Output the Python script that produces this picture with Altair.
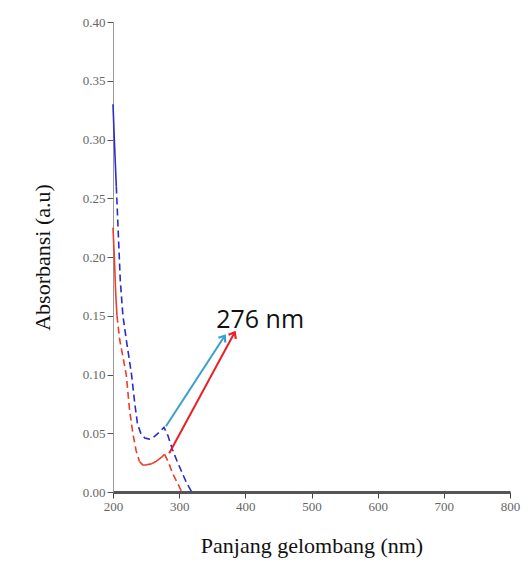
import altair as alt
import pandas as pd

# Blue curve (wavelength nm, absorbance)
blue_x = [200, 202, 205, 208, 211, 215, 220, 228, 233, 237, 242, 248, 255, 262, 270, 277, 283, 290, 297, 304, 311, 319]
blue_y = [0.33, 0.30, 0.26, 0.22, 0.18, 0.15, 0.13, 0.10, 0.075, 0.058, 0.05, 0.046, 0.045, 0.047, 0.051, 0.055, 0.048, 0.036, 0.026, 0.017, 0.008, 0.0]

red_x = [200, 202, 204, 206, 210, 215, 220, 225, 230, 235, 240, 245, 250, 258, 265, 272, 278, 284, 290, 297, 304]
red_y = [0.225, 0.20, 0.17, 0.15, 0.13, 0.115, 0.10, 0.07, 0.05, 0.035, 0.026, 0.023, 0.023, 0.024, 0.026, 0.029, 0.032, 0.025, 0.016, 0.008, 0.0]

# Annotation arrows: start and tip in data units
arrow_blue = [(280, 0.056), (369, 0.133)]
arrow_red = [(285, 0.033), (384, 0.136)]
label_text = "276 nm"
label_pos = (356, 0.146)

x_ticks = [200, 300, 400, 500, 600, 700, 800]
y_ticks = [0.0, 0.05, 0.10, 0.15, 0.20, 0.25, 0.30, 0.35, 0.40]

rows = []
for x, y in zip(blue_x, blue_y):
    segs = ["b1"] if x < 205 else (["b1", "b2"] if x == 205 else ["b2"])
    for s in segs:
        rows.append(dict(x=x, y=y, seg=s, dash="solid" if s == "b1" else "dash", color="blue"))
for x, y in zip(red_x, red_y):
    if x == 206:
        segs = ["r1", "r2"]
    elif x == 240:
        segs = ["r2", "r3"]
    elif x == 278:
        segs = ["r3", "r4"]
    elif x < 206:
        segs = ["r1"]
    elif x < 240:
        segs = ["r2"]
    elif x < 278:
        segs = ["r3"]
    else:
        segs = ["r4"]
    for s in segs:
        rows.append(dict(x=x, y=y, seg=s, dash="solid" if s in ("r1", "r3") else "dash", color="red"))
df = pd.DataFrame(rows)

xs = alt.Scale(domain=[200, 800], nice=False)
ys = alt.Scale(domain=[0, 0.40], nice=False)

xaxis = alt.Axis(values=x_ticks, title="Panjang gelombang (nm)", format="d",
                 titleFont="Liberation Serif", titleFontSize=22, titleFontWeight="normal",
                 titleColor="#111", titlePadding=22, labelFlush=False,
                 labelFont="Liberation Serif", labelFontSize=13, labelColor="#666",
                 domainColor="#555", domainWidth=3, tickColor="#444", tickSize=6, grid=False)
yaxis = alt.Axis(values=y_ticks, title="Absorbansi (a.u)", format=".2f",
                 titleFont="Liberation Serif", titleFontSize=22, titleFontWeight="normal",
                 titleColor="#111", titlePadding=28, labelFlush=False,
                 labelFont="Liberation Serif", labelFontSize=13, labelColor="#666",
                 domainColor="#999", domainWidth=1, tickColor="#555", tickSize=6, grid=False)

lines = alt.Chart(df).mark_line(strokeWidth=1.6).encode(
    x=alt.X("x:Q", scale=xs, axis=xaxis),
    y=alt.Y("y:Q", scale=ys, axis=yaxis),
    detail="seg:N",
    color=alt.Color("color:N", scale=alt.Scale(domain=["blue", "red"], range=["#2b2bd0", "#e8402a"]), legend=None),
    strokeDash=alt.StrokeDash("dash:N", scale=alt.Scale(domain=["solid", "dash"], range=[[1, 0], [7, 4]]), legend=None),
    order="x:Q",
)

adf = pd.DataFrame([
    dict(x=arrow_blue[0][0], y=arrow_blue[0][1], a="arrow_blue", o=0),
    dict(x=arrow_blue[1][0], y=arrow_blue[1][1], a="arrow_blue", o=1),
    dict(x=arrow_red[0][0], y=arrow_red[0][1], a="arrow_red", o=0),
    dict(x=arrow_red[1][0], y=arrow_red[1][1], a="arrow_red", o=1),
])
acol = alt.Scale(domain=["arrow_blue", "arrow_red"], range=["#3a9fd0", "#e82028"])
shafts = alt.Chart(adf).mark_line(strokeWidth=2).encode(
    x=alt.X("x:Q", scale=xs), y=alt.Y("y:Q", scale=ys),
    stroke=alt.Stroke("a:N", scale=acol, legend=None), detail="a:N", order="o:Q")

tips = pd.DataFrame([
    dict(x=arrow_blue[1][0], y=arrow_blue[1][1], a="arrow_blue", ang=34),
    dict(x=arrow_red[1][0], y=arrow_red[1][1], a="arrow_red", ang=29),
])
heads = alt.Chart(tips).mark_point(shape="M-0.7,0.9L0,0L0.7,0.9", filled=False, strokeWidth=2.2, size=140, opacity=1).encode(
    x=alt.X("x:Q", scale=xs), y=alt.Y("y:Q", scale=ys),
    stroke=alt.Stroke("a:N", scale=acol, legend=None),
    angle=alt.Angle("ang:Q", scale=None))

ldf = pd.DataFrame([dict(x=label_pos[0], y=label_pos[1], t=label_text)])
label = alt.Chart(ldf).mark_text(align="left", baseline="middle", font="Open Sans", fontSize=25, color="#111").encode(
    x=alt.X("x:Q", scale=xs), y=alt.Y("y:Q", scale=ys), text="t:N")

chart = alt.layer(lines, shafts, heads, label).resolve_scale(
    color="independent", stroke="independent"
).properties(
    width=397, height=470,
    autosize=alt.AutoSizeParams(type="none"),
    padding={"left": 105, "top": 14, "right": 12, "bottom": 70},
).configure_view(stroke=None)

chart.save("out.html", embed_options={"renderer": "svg", "actions": False})
